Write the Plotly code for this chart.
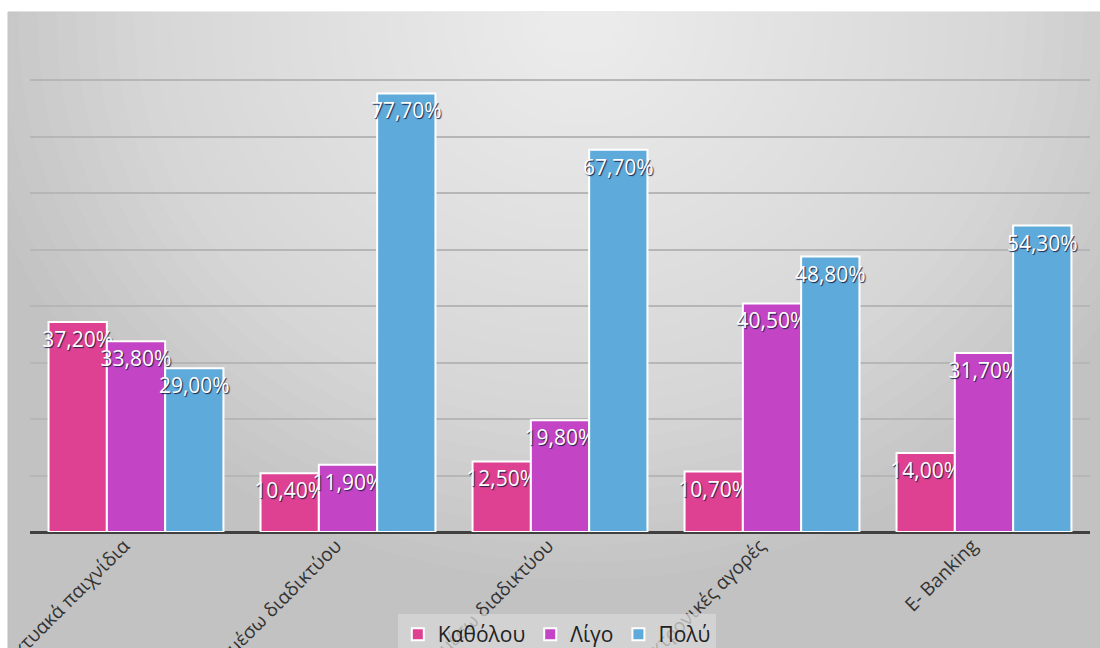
import plotly.graph_objects as go

# ---- data ----
categories = ["Διαδικτυακά παιχνίδια", "Επικοινωνία μέσω διαδικτύου",
              "Ενημέρωση μέσω διαδικτύου", "Ηλεκτρονικές αγορές", "E- Banking"]
series_names = ["Καθόλου", "Λίγο", "Πολύ"]
katholou = [37.2, 10.4, 12.5, 10.7, 14.0]
ligo = [33.8, 11.9, 19.8, 40.5, 31.7]
poly = [29.0, 77.7, 67.7, 48.8, 54.3]
series_values = [katholou, ligo, poly]
colors = ["#DE4092", "#C444C6", "#5EAADA"]

W, H = 1100, 648
ML, MR, MT, MB = 30, 10, 24, 116
PW, PH = W - ML - MR, H - MT - MB


def px_x(px):
    return (px - ML) / PW


def px_y(py):
    return (H - MB - py) / PH


fig = go.Figure()
for name, vals, col in zip(series_names, series_values, colors):
    fig.add_trace(go.Bar(
        x=categories, y=vals, name=name,
        marker=dict(color=col, line=dict(color="white", width=2)),
        texttemplate="%{y:.2f}%",
        textposition="inside", insidetextanchor="end",
        textangle=0, constraintext="none",
        textfont=dict(family="Open Sans", size=21, color="white",
                      shadow="1px 1px 1px rgba(20,30,70,0.95)"),
        hoverinfo="skip",
    ))

# background panel with a soft radial highlight
shapes = [dict(type="rect", xref="paper", yref="paper", layer="below",
               x0=px_x(8), x1=px_x(1110), y0=px_y(670), y1=px_y(12),
               fillcolor="#c2c2c2", line=dict(color="#bcbcbc", width=1))]
N = 32
cx, cy, rx, ry = 580, 20, 620, 560
for k in range(N, 0, -1):
    f = k / N
    shapes.append(dict(type="circle", xref="paper", yref="paper", layer="below",
                       x0=px_x(cx - rx * f), x1=px_x(cx + rx * f),
                       y0=px_y(cy + ry * f), y1=px_y(cy - ry * f),
                       fillcolor="rgba(255,255,255,0.048)", line=dict(width=0)))

fig.update_layout(
    width=W, height=H,
    margin=dict(l=ML, r=MR, t=MT, b=MB, autoexpand=False),
    paper_bgcolor="white", plot_bgcolor="rgba(0,0,0,0)",
    barmode="group", bargap=0.175, bargroupgap=0,
    separators=",.",
    shapes=shapes,
    showlegend=True,
    legend=dict(orientation="h", x=0.497, xanchor="center",
                y=px_y(614), yanchor="top",
                bgcolor="rgba(215,215,215,0.75)", borderwidth=0,
                font=dict(family="Open Sans", size=21, color="#222222"),
                traceorder="normal"),
    font=dict(family="Open Sans"),
)
fig.update_xaxes(tickangle=-45, automargin=False, showgrid=False,
                 tickfont=dict(family="Open Sans", size=19, color="#333333"),
                 ticklabelshift=-12, ticklabelstandoff=-2,
                 showline=False, ticks="")
fig.update_yaxes(range=[0, 90], dtick=10, showticklabels=False,
                 showgrid=True, gridcolor="#b6b6b6", gridwidth=2,
                 zeroline=True, zerolinecolor="#404040", zerolinewidth=3,
                 automargin=False)

fig.write_html("out.html",
               config={"displayModeBar": False},
               post_script="document.body.style.margin='0';"
                           "document.documentElement.style.overflow='hidden';")
